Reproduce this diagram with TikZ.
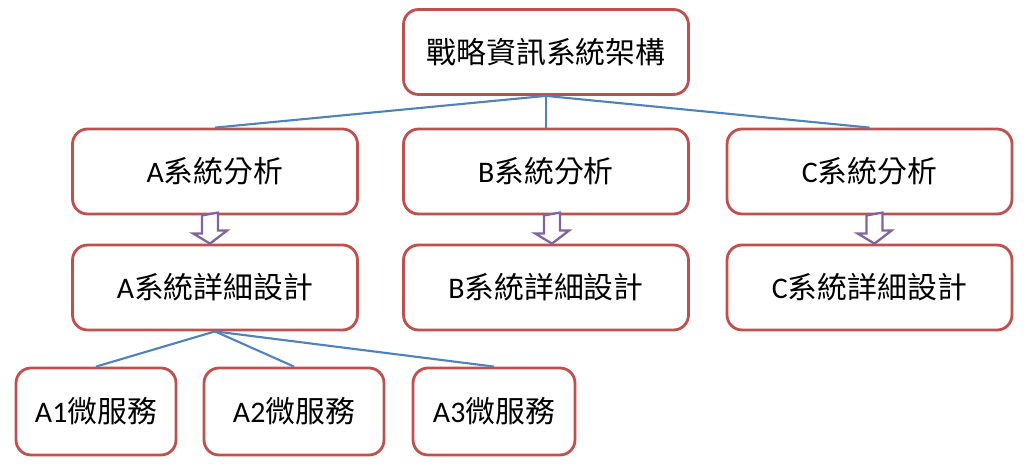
\documentclass[tikz,border=0pt]{standalone}
\usepackage{fontspec}
\setmainfont{Carlito}
\newfontfamily\cjk{Noto Sans CJK TC}
\usetikzlibrary{positioning, calc}

\definecolor{boxred}{RGB}{192,80,77}
\definecolor{linkblue}{RGB}{79,129,189}
\definecolor{arrpurple}{RGB}{128,100,162}

\begin{document}
\begin{tikzpicture}[
      x=0.02cm, y=-0.02cm,
      box/.style={rectangle, draw=boxred, line width=1.6pt, rounded corners=0.3cm,
                  align=center, minimum width=5.7cm, minimum height=1.7cm,
                  font=\fontsize{17pt}{20pt}\selectfont, inner sep=2pt},
      small/.style={box, minimum height=1.74cm},
      link/.style={draw=linkblue, line width=1.2pt},
      hollow/.style={draw=arrpurple, fill=white, line width=1.3pt, line join=miter}
    ]
    \useasboundingbox (0,0) rectangle (1024,469);

    \node[box] (top) at (546,52) {{\cjk 戰略資訊系統架構}};

    \node[box] (aana) at (215,171.5) {A{\cjk 系統分析}};
    \node[box] (bana) at (546,171.5) {B{\cjk 系統分析}};
    \node[box] (cana) at (869.5,171.5) {C{\cjk 系統分析}};

    \node[box] (ades) at (215,287.5) {A{\cjk 系統詳細設計}};
    \node[box] (bdes) at (546,287.5) {B{\cjk 系統詳細設計}};
    \node[box] (cdes) at (869.5,287.5) {C{\cjk 系統詳細設計}};

    \node[small, minimum width=3.2cm] (aone) at (96,411.5) {A1{\cjk 微服務}};
    \node[small, minimum width=3.6cm] (atwo) at (294,411.5) {A2{\cjk 微服務}};
    \node[small, minimum width=3.24cm] (athree) at (494,411.5) {A3{\cjk 微服務}};

    % tree links
    \draw[link] (top.south) -- (aana.north);
    \draw[link] (top.south) -- (bana.north);
    \draw[link] (top.south) -- (cana.north);
    \draw[link] (ades.south) -- (aone.north);
    \draw[link] (ades.south) -- (atwo.north);
    \draw[link] (ades.south) -- (athree.north);

    % hollow down arrows
    \foreach \s/\dx in {a/-5, b/6, c/5}
      \draw[hollow] ($(\s ana.south)+(\dx,0)$) ++(-8,0) -- ++(0,18)
        -- ++(-9,0) -- ($(\s des.north)+(\dx,0)$) -- ++(17,-13) -- ++(-9,0)
        -- ++(0,-18) -- cycle;

  \end{tikzpicture}
\end{document}
